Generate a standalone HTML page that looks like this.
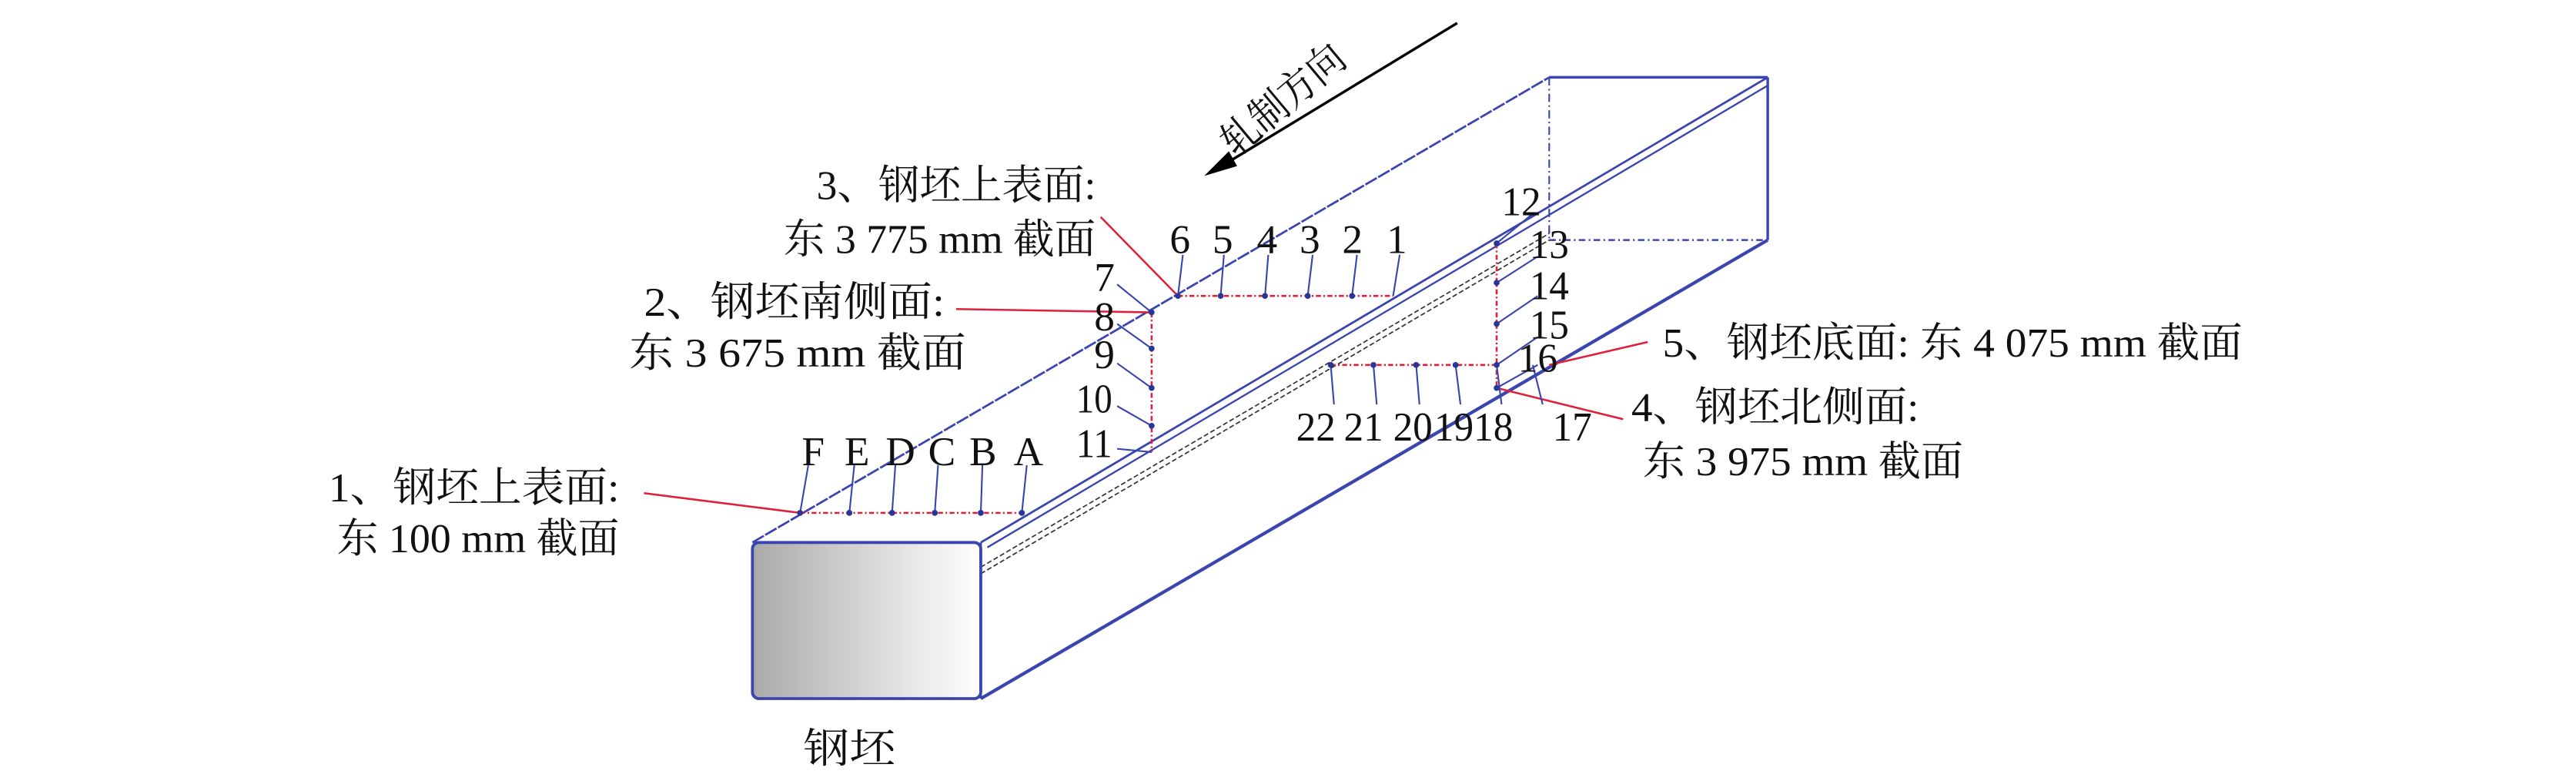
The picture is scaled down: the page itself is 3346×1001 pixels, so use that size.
<!DOCTYPE html>
<html><head><meta charset="utf-8"><style>
html,body{margin:0;padding:0;background:#fff;}
svg{display:block}
text{font-family:"Liberation Serif","Noto Serif CJK SC",serif;fill:#111;font-size:25px}
</style></head><body>
<svg width="3346" height="1001" viewBox="0 0 1568 469" xmlns="http://www.w3.org/2000/svg">
<defs>
<linearGradient id="g" x1="0" x2="1" y1="0" y2="0">
<stop offset="0" stop-color="#a9a9a9"/><stop offset="0.5" stop-color="#d6d6d6"/><stop offset="1" stop-color="#ffffff"/>
</linearGradient>
</defs>
<line x1="887" y1="14" x2="742" y2="102" stroke="#000" stroke-width="1.6"/>
<polygon points="733,107 748,92 753,101" fill="#000"/>
<text transform="translate(752,96) rotate(-40)" font-size="27" textLength="90" lengthAdjust="spacingAndGlyphs">轧制方向</text>
<g stroke="#3a45b0" fill="none">
<line x1="943" y1="47" x2="1076" y2="47" stroke-width="1.6"/>
<line x1="1076" y1="47" x2="1076" y2="146" stroke-width="1.6"/>
<line x1="943" y1="47" x2="943" y2="146" stroke-width="1" stroke-dasharray="5,2,1,2"/>
<line x1="943" y1="146" x2="1076" y2="146" stroke-width="1.2" stroke-dasharray="4,2,1,2"/>
<line x1="458" y1="330" x2="943" y2="47" stroke-width="1.3" stroke-dasharray="8,1"/>
<line x1="597" y1="330" x2="1076" y2="47" stroke-width="1.3"/>
<line x1="601" y1="333" x2="1076" y2="52" stroke-width="1.1"/>
<line x1="597" y1="425" x2="1076" y2="146" stroke-width="2"/>
<line x1="597" y1="330" x2="597" y2="425" stroke-width="1.3"/>
</g>
<g stroke="#333" fill="none" stroke-width="0.8" stroke-dasharray="3,1.5">
<line x1="597" y1="345" x2="943" y2="142"/>
<line x1="597" y1="349" x2="943" y2="146"/>
</g>
<rect x="458" y="330" width="139" height="95" rx="4" fill="url(#g)" stroke="#3a45b0" stroke-width="1.8"/>
<g stroke="#e0203a" fill="none" stroke-width="1.2" stroke-dasharray="3,1.5,1,1.5">
<line x1="487" y1="312" x2="622" y2="312"/>
<line x1="717" y1="180" x2="848" y2="180"/>
<line x1="701" y1="190" x2="701" y2="275"/>
<line x1="911" y1="148" x2="911" y2="236"/>
<line x1="810" y1="222" x2="911" y2="222"/>
</g>
<g stroke="#e0203a" stroke-width="1.2">
<line x1="392" y1="300" x2="487" y2="312"/>
<line x1="670" y1="132" x2="717" y2="180"/>
<line x1="582" y1="188" x2="701" y2="190"/>
<line x1="911" y1="236" x2="988" y2="255"/>
<line x1="943" y1="222" x2="1003" y2="208"/>
</g>
<g stroke="#3a45b0" stroke-width="1">
<line x1="492" y1="283" x2="487" y2="312"/><line x1="520" y1="283" x2="517" y2="312"/><line x1="545" y1="283" x2="543" y2="312"/><line x1="571" y1="283" x2="569" y2="312"/><line x1="598" y1="283" x2="597" y2="312"/><line x1="625" y1="283" x2="622" y2="312"/>
<line x1="720" y1="155" x2="717" y2="180"/><line x1="745" y1="155" x2="743" y2="180"/><line x1="772" y1="155" x2="770" y2="180"/><line x1="799" y1="155" x2="796" y2="180"/><line x1="826" y1="155" x2="823" y2="180"/><line x1="852" y1="155" x2="848" y2="180"/>
<line x1="680" y1="173" x2="701" y2="190"/><line x1="680" y1="197" x2="701" y2="212"/><line x1="680" y1="221" x2="701" y2="236"/><line x1="680" y1="247" x2="701" y2="259"/><line x1="680" y1="273" x2="701" y2="275"/>
<line x1="933" y1="130" x2="911" y2="148"/><line x1="936" y1="156" x2="911" y2="172"/><line x1="936" y1="180" x2="911" y2="197"/><line x1="936" y1="205" x2="911" y2="222"/><line x1="936" y1="222" x2="911" y2="236"/>
<line x1="810" y1="222" x2="812" y2="246"/><line x1="836" y1="222" x2="838" y2="246"/><line x1="862" y1="222" x2="864" y2="246"/><line x1="886" y1="222" x2="889" y2="246"/><line x1="911" y1="222" x2="914" y2="246"/><line x1="933" y1="222" x2="939" y2="246"/>
</g>
<g fill="#2a3598">
<circle cx="487" cy="312" r="1.8"/><circle cx="517" cy="312" r="1.8"/><circle cx="543" cy="312" r="1.8"/><circle cx="569" cy="312" r="1.8"/><circle cx="597" cy="312" r="1.8"/><circle cx="622" cy="312" r="1.8"/>
<circle cx="717" cy="180" r="1.8"/><circle cx="743" cy="180" r="1.8"/><circle cx="770" cy="180" r="1.8"/><circle cx="796" cy="180" r="1.8"/><circle cx="823" cy="180" r="1.8"/>
<circle cx="701" cy="190" r="1.8"/><circle cx="701" cy="212" r="1.8"/><circle cx="701" cy="236" r="1.8"/><circle cx="701" cy="259" r="1.8"/>
<circle cx="911" cy="148" r="1.8"/><circle cx="911" cy="172" r="1.8"/><circle cx="911" cy="197" r="1.8"/><circle cx="911" cy="222" r="1.8"/><circle cx="911" cy="236" r="1.8"/>
<circle cx="810" cy="222" r="1.8"/><circle cx="836" cy="222" r="1.8"/><circle cx="862" cy="222" r="1.8"/><circle cx="886" cy="222" r="1.8"/>
</g>
<g>
<text x="488" y="283">F</text><text x="514" y="283">E</text><text x="539" y="283">D</text><text x="565" y="283">C</text><text x="590" y="283">B</text><text x="617" y="283">A</text>
<text x="712" y="154">6</text><text x="738" y="154">5</text><text x="765" y="154">4</text><text x="791" y="154">3</text><text x="817" y="154">2</text><text x="844" y="154">1</text>
<text x="666" y="177">7</text><text x="666" y="201">8</text><text x="666" y="224">9</text>
<text x="655" y="251" textLength="22" lengthAdjust="spacingAndGlyphs">10</text><text x="655" y="278" textLength="22" lengthAdjust="spacingAndGlyphs">11</text>
<text x="914" y="131" textLength="24" lengthAdjust="spacingAndGlyphs">12</text><text x="931" y="157" textLength="24" lengthAdjust="spacingAndGlyphs">13</text><text x="931" y="182" textLength="24" lengthAdjust="spacingAndGlyphs">14</text><text x="931" y="206" textLength="24" lengthAdjust="spacingAndGlyphs">15</text><text x="924" y="226" textLength="24" lengthAdjust="spacingAndGlyphs">16</text>
<text x="789" y="268" textLength="24" lengthAdjust="spacingAndGlyphs">22</text><text x="818" y="268" textLength="24" lengthAdjust="spacingAndGlyphs">21</text><text x="848" y="268" textLength="24" lengthAdjust="spacingAndGlyphs">20</text><text x="873" y="268" textLength="24" lengthAdjust="spacingAndGlyphs">19</text><text x="897" y="268" textLength="24" lengthAdjust="spacingAndGlyphs">18</text><text x="945" y="268" textLength="24" lengthAdjust="spacingAndGlyphs">17</text>
</g>
<g font-size="26">
<text x="497" y="121" textLength="170" lengthAdjust="spacingAndGlyphs">3、钢坯上表面:</text>
<text x="477" y="154" textLength="190" lengthAdjust="spacingAndGlyphs">东 3 775 mm 截面</text>
<text x="392" y="192" textLength="183" lengthAdjust="spacingAndGlyphs">2、钢坯南侧面:</text>
<text x="383" y="223" textLength="205" lengthAdjust="spacingAndGlyphs">东 3 675 mm 截面</text>
<text x="200" y="305" textLength="177" lengthAdjust="spacingAndGlyphs">1、钢坯上表面:</text>
<text x="205" y="336" textLength="172" lengthAdjust="spacingAndGlyphs">东 100 mm 截面</text>
<text x="1012" y="217" textLength="353" lengthAdjust="spacingAndGlyphs">5、钢坯底面: 东 4 075 mm 截面</text>
<text x="993" y="256" textLength="175" lengthAdjust="spacingAndGlyphs">4、钢坯北侧面:</text>
<text x="1000" y="289" textLength="195" lengthAdjust="spacingAndGlyphs">东 3 975 mm 截面</text>
<text x="489" y="464" textLength="56" lengthAdjust="spacingAndGlyphs">钢坯</text>
</g>
</svg>
</body></html>
